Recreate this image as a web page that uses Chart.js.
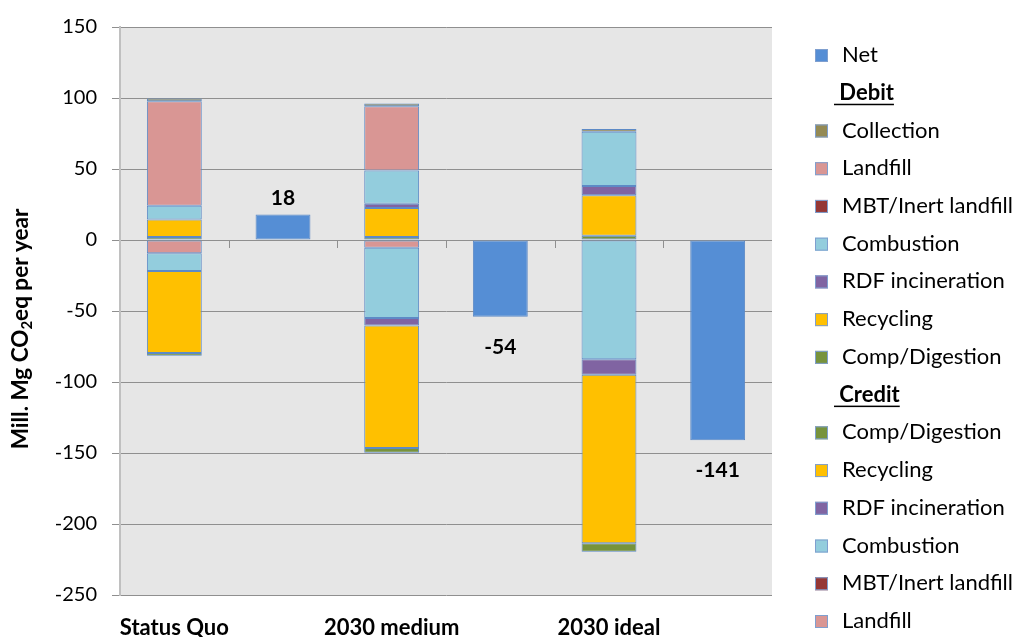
<!DOCTYPE html>
<html lang="en">
  <head>
    <meta charset="UTF-8" />
    <meta name="viewport" content="width=device-width, initial-scale=1.0" />
    <script src="https://cdn.jsdelivr.net/npm/chart.js"></script>
    <title>Waste scenarios</title>
    <style>
      html, body { margin: 0; padding: 0; background: #fff; }
      #wrap { width: 1021px; height: 637px; position: relative; }
    </style>
  </head>
  <body>
    <div id="wrap"><canvas id="myChart"></canvas></div>
    <script>
      // categories: scenario bars on even slots, net bars on odd slots
      const categories = ["Status Quo", "", "2030 medium", "", "2030 ideal", ""];
      const yTicks = [150, 100, 50, 0, -50, -100, -150, -200, -250];

      const net = [null, 18, null, -54, null, -141];

      // debit (positive)
      const debitCollection = [1.9, null, 1.9, null, 1.9, null];
      const debitLandfill = [73.6, null, 45.2, null, 0, null];
      const debitMbt = [0, null, 0, null, 0, null];
      const debitCombustion = [9.6, null, 23.5, null, 38.2, null];
      const debitRdf = [0, null, 3.0, null, 6.4, null];
      const debitRecycling = [12.4, null, 20.4, null, 28.6, null];
      const debitComp = [2.1, null, 2.1, null, 3.0, null];

      // credit (negative)
      const creditComp = [-2.1, null, -3.5, null, -6.1, null];
      const creditRecycling = [-57.7, null, -86.2, null, -118.6, null];
      const creditRdf = [0, null, -5.2, null, -11.0, null];
      const creditCombustion = [-12.4, null, -49.5, null, -83.9, null];
      const creditMbt = [0, null, 0, null, 0, null];
      const creditLandfill = [-9.4, null, -5.5, null, 0, null];

      const C = {
        net: "#558ED5",
        collection: "#948A54",
        landfill: "#D99694",
        mbt: "#953735",
        combustion: "#93CDDD",
        rdf: "#8064A2",
        recycling: "#FFC000",
        comp: "#77933C",
      };
      const FONT = "Lato";

      function ds(label, data, color, group) {
        return {
          label: label,
          data: data,
          backgroundColor: color,
          borderColor: "#5d8ac6",
          borderWidth: 1,
          borderSkipped: false,
          stack: "s",
          group: group,
        };
      }

      // stacking order: first dataset sits next to zero
      const datasets = [
        ds("Landfill", creditLandfill, C.landfill, "credit"),
        ds("MBT/Inert landfill", creditMbt, C.mbt, "credit"),
        ds("Combustion", creditCombustion, C.combustion, "credit"),
        ds("RDF incineration", creditRdf, C.rdf, "credit"),
        ds("Recycling", creditRecycling, C.recycling, "credit"),
        ds("Comp/Digestion", creditComp, C.comp, "credit"),
        ds("Comp/Digestion", debitComp, C.comp, "debit"),
        ds("Recycling", debitRecycling, C.recycling, "debit"),
        ds("RDF incineration", debitRdf, C.rdf, "debit"),
        ds("Combustion", debitCombustion, C.combustion, "debit"),
        ds("MBT/Inert landfill", debitMbt, C.mbt, "debit"),
        ds("Landfill", debitLandfill, C.landfill, "debit"),
        ds("Collection", debitCollection, C.collection, "debit"),
        ds("Net", net, C.net, "net"),
      ];

      const plotBg = {
        id: "plotBg",
        beforeDraw(chart) {
          const a = chart.chartArea;
          const ctx = chart.ctx;
          ctx.save();
          ctx.fillStyle = "#e6e6e6";
          ctx.fillRect(a.left, a.top, a.right - a.left, a.bottom - a.top);
          ctx.restore();
        },
      };

      const extras = {
        id: "extras",
        afterDatasetsDraw(chart) {
          const ctx = chart.ctx;
          const a = chart.chartArea;
          const y0 = chart.scales.y.getPixelForValue(0);
          const catW = (a.right - a.left) / categories.length;
          ctx.save();
          // category ticks on the zero line
          ctx.strokeStyle = "#8f8f8f";
          ctx.lineWidth = 1;
          for (let k = 1; k < categories.length; k++) {
            const x = Math.round(a.left + k * catW) + 0.5;
            ctx.beginPath();
            ctx.moveTo(x, y0);
            ctx.lineTo(x, y0 + 8);
            ctx.stroke();
          }
          // net value labels
          const meta = chart.getDatasetMeta(datasets.length - 1);
          ctx.fillStyle = "#000";
          ctx.font = "bold 21px " + FONT;
          ctx.textAlign = "center";
          meta.data.forEach((el, i) => {
            const v = net[i];
            if (v === null) return;
            if (v >= 0) {
              ctx.textBaseline = "bottom";
              ctx.fillText(String(v), el.x, el.y - 6);
            } else {
              ctx.textBaseline = "top";
              ctx.fillText(String(v), el.x, el.y + 20);
            }
          });
          ctx.restore();
        },
        afterDraw(chart) {
          const ctx = chart.ctx;
          ctx.save();
          // y axis title with subscript
          const parts = [
            ["Mill. Mg CO", 22.5, 0],
            ["2", 15, 6],
            ["eq per year", 22.5, 0],
          ];
          let total = 0;
          parts.forEach((p) => {
            ctx.font = "bold " + p[1] + "px " + FONT;
            total += ctx.measureText(p[0]).width;
          });
          ctx.translate(21, 329);
          ctx.rotate(-Math.PI / 2);
          ctx.fillStyle = "#000";
          ctx.textBaseline = "middle";
          ctx.textAlign = "left";
          let x = -total / 2;
          parts.forEach((p) => {
            ctx.font = "bold " + p[1] + "px " + FONT;
            ctx.fillText(p[0], x, p[2]);
            x += ctx.measureText(p[0]).width;
          });
          ctx.restore();

          // legend
          ctx.save();
          const entries = [{ text: "Net", color: C.net }];
          entries.push({ text: " Debit", header: true });
          datasets.filter((d) => d.group === "debit").reverse()
            .forEach((d) => entries.push({ text: d.label, color: d.backgroundColor }));
          entries.push({ text: " Credit", header: true });
          datasets.filter((d) => d.group === "credit").reverse()
            .forEach((d) => entries.push({ text: d.label, color: d.backgroundColor }));
          const step = (621 - 55) / (entries.length - 1);
          ctx.textBaseline = "middle";
          ctx.textAlign = "left";
          entries.forEach((e, i) => {
            const yc = 55 + i * step;
            if (e.header) {
              ctx.font = "bold 22px " + FONT;
              ctx.fillStyle = "#000";
              ctx.fillText(e.text, 834, yc);
              const w = ctx.measureText(e.text).width;
              ctx.fillRect(834, yc + 11, w, 1.5);
            } else {
              ctx.fillStyle = e.color;
              ctx.fillRect(815, yc - 6, 13, 13);
              ctx.strokeStyle = "#7f9fcf";
              ctx.lineWidth = 1;
              ctx.strokeRect(815.5, yc - 5.5, 12, 12);
              ctx.font = "22px " + FONT;
              ctx.fillStyle = "#000";
              ctx.fillText(e.text, 842, yc);
            }
          });
          ctx.restore();
        },
      };

      new Chart(document.getElementById("myChart"), {
        type: "bar",
        data: { labels: categories, datasets: datasets },
        options: {
          responsive: true,
          maintainAspectRatio: false,
          animation: false,
          categoryPercentage: 1,
          barPercentage: 0.505,
          layout: { padding: { top: 27, right: 249, left: 0, bottom: 0 } },
          plugins: { legend: { display: false }, tooltip: { enabled: false } },
          scales: {
            x: {
              stacked: true,
              grid: { display: false },
              border: { display: false },
              ticks: {
                autoSkip: false,
                maxRotation: 0,
                color: "#000",
                padding: 12,
                font: { family: FONT, size: 22, weight: "bold" },
              },
              afterFit(scale) { scale.height = 42; },
            },
            y: {
              stacked: true,
              min: -250,
              max: 150,
              afterBuildTicks(scale) {
                scale.ticks = yTicks.map((v) => ({ value: v }));
              },
              ticks: {
                color: "#000",
                padding: 15,
                font: { family: FONT, size: 20 },
              },
              grid: { color: "#8f8f8f", lineWidth: 1, tickLength: 8, tickColor: "#8f8f8f" },
              border: { display: true, color: "#c0c0c0", width: 2 },
              afterFit(scale) { scale.width = 120; },
            },
          },
        },
        plugins: [plotBg, extras],
      });
    </script>
  </body>
</html>
